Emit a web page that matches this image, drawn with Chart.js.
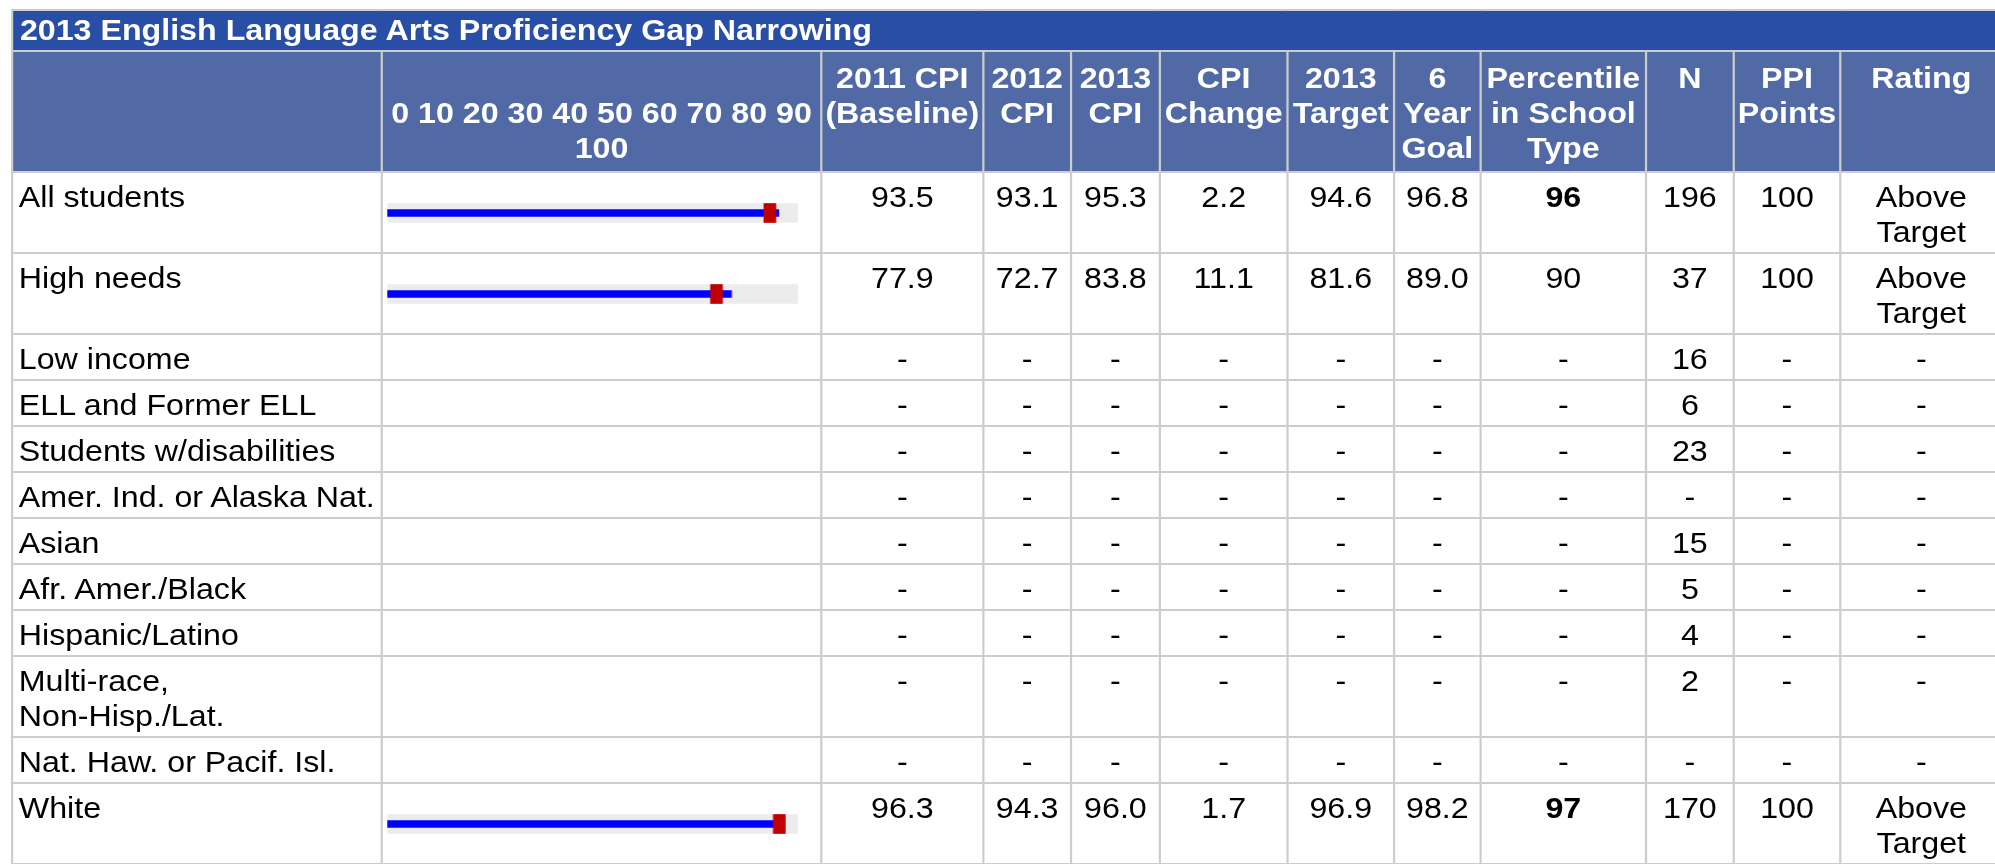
<!DOCTYPE html>
<html>
<head>
<meta charset="utf-8">
<title>2013 English Language Arts Proficiency Gap Narrowing</title>
<script src="https://cdn.jsdelivr.net/npm/chart.js@4.4.0/dist/chart.umd.min.js"></script>
<style>
html, body { margin: 0; padding: 0; background: #fff; }
body { width: 1995px; height: 864px; overflow: hidden; position: relative; }
#wrap { position: absolute; left: 11px; top: 9px; transform-origin: 0 0; transform: scaleX(1.11); }
table { border-collapse: collapse; table-layout: fixed; font-family: "Liberation Sans", Arial, sans-serif;
  font-size: 29px; line-height: 35px; color: #000; border-left: 2px solid #3b5cb6; }
th, td { border: 2px solid #cdcdcd; }
tr.title th { background: #284ea6; color: #fff; text-align: left; padding: 2px 6px; }
tr.head th { background: #5169a5; color: #fff; vertical-align: top; text-align: center; padding: 9px 2px 5px; }
tr.head th.axis { vertical-align: bottom; }
tbody td { vertical-align: top; text-align: center; padding: 7px 2px 2px; }
tbody td.lab { text-align: left; padding-left: 5px; }
tbody td.bul { padding: 0; vertical-align: middle; }
.bul div { width: 370px; height: 30px; margin-left: 4px; position: relative; }
</style>
</head>
<body>
<div id="wrap">
<table id="tbl">
  <colgroup>
    <col style="width:333px"><col style="width:396px"><col style="width:146px"><col style="width:79px">
    <col style="width:80px"><col style="width:115px"><col style="width:96px"><col style="width:78px">
    <col style="width:149px"><col style="width:79px"><col style="width:96px"><col style="width:146px">
  </colgroup>
  <thead>
    <tr class="title"><th colspan="12">2013 English Language Arts Proficiency Gap Narrowing</th></tr>
    <tr class="head" id="headRow"></tr>
  </thead>
  <tbody id="body"></tbody>
</table>
</div>
<script>
// student groups (rows)
var groups = ['All students', 'High needs', 'Low income', 'ELL and Former ELL', 'Students w/disabilities',
  'Amer. Ind. or Alaska Nat.', 'Asian', 'Afr. Amer./Black', 'Hispanic/Latino', 'Multi-race,\nNon-Hisp./Lat.',
  'Nat. Haw. or Pacif. Isl.', 'White'];

var cpi2011 = [93.5, 77.9, null, null, null, null, null, null, null, null, null, 96.3];
var cpi2012 = [93.1, 72.7, null, null, null, null, null, null, null, null, null, 94.3];
var cpi2013 = [95.3, 83.8, null, null, null, null, null, null, null, null, null, 96.0];
var cpiChange = [2.2, 11.1, null, null, null, null, null, null, null, null, null, 1.7];
var target2013 = [94.6, 81.6, null, null, null, null, null, null, null, null, null, 96.9];
var goal6yr = [96.8, 89.0, null, null, null, null, null, null, null, null, null, 98.2];
var percentile = [96, 90, null, null, null, null, null, null, null, null, null, 97];
var nStudents = [196, 37, 16, 6, 23, null, 15, 5, 4, 2, null, 170];
var ppiPoints = [100, 100, null, null, null, null, null, null, null, null, null, 100];
var rating = ['Above Target', 'Above Target', null, null, null, null, null, null, null, null, null, 'Above Target'];

// bullet axis ticks shown in the header
var axisTicks = [0, 10, 20, 30, 40, 50, 60, 70, 80, 90, 100];

var headers = ['2011 CPI<br>(Baseline)', '2012<br>CPI', '2013<br>CPI', 'CPI<br>Change', '2013<br>Target',
  '6<br>Year<br>Goal', 'Percentile<br>in School<br>Type', 'N', 'PPI<br>Points', 'Rating'];

var headRow = document.getElementById('headRow');
var h = '<th></th><th class="axis">' + axisTicks.slice(0, -1).join(' ') + '<br>' + axisTicks[axisTicks.length - 1] + '</th>';
headers.forEach(function (t) { h += '<th>' + t + '</th>'; });
headRow.innerHTML = h;

function fmt1(v) { return v == null ? '-' : v.toFixed(1); }
function fmt0(v) { return v == null ? '-' : String(v); }

var body = document.getElementById('body');
var bulletRows = [];
groups.forEach(function (g, i) {
  var tr = document.createElement('tr');
  var pct = percentile[i] == null ? '-' : (percentile[i] > 90 ? '<b>' + percentile[i] + '</b>' : percentile[i]);
  var hasBullet = cpi2013[i] != null;
  tr.innerHTML =
    '<td class="lab">' + g.replace('\n', '<br>') + '</td>' +
    '<td class="bul">' + (hasBullet ? '<div><canvas id="bullet' + i + '"></canvas></div>' : '') + '</td>' +
    '<td>' + fmt1(cpi2011[i]) + '</td>' +
    '<td>' + fmt1(cpi2012[i]) + '</td>' +
    '<td>' + fmt1(cpi2013[i]) + '</td>' +
    '<td>' + fmt1(cpiChange[i]) + '</td>' +
    '<td>' + fmt1(target2013[i]) + '</td>' +
    '<td>' + fmt1(goal6yr[i]) + '</td>' +
    '<td>' + pct + '</td>' +
    '<td>' + fmt0(nStudents[i]) + '</td>' +
    '<td>' + fmt0(ppiPoints[i]) + '</td>' +
    '<td>' + (rating[i] || '-') + '</td>';
  body.appendChild(tr);
  if (hasBullet) bulletRows.push(i);
});

var axisMin = axisTicks[0];
var axisMax = axisTicks[axisTicks.length - 1];
var markerWidth = 2.9; // width of the target marker, in axis units (drawn ending at the target)

// one small bullet chart per row: grey range, blue 2013 CPI bar, red target marker
bulletRows.forEach(function (i) {
  var ctx = document.getElementById('bullet' + i).getContext('2d');
  new Chart(ctx, {
    type: 'bar',
    data: {
      labels: [groups[i]],
      datasets: [
        {
          label: '2013 Target',
          data: [[target2013[i] - markerWidth, target2013[i]]],
          backgroundColor: '#c00000',
          barThickness: 19,
          grouped: false,
          order: 0
        },
        {
          label: '2013 CPI',
          data: [cpi2013[i]],
          backgroundColor: '#0000ff',
          barThickness: 7,
          grouped: false,
          order: 1
        },
        {
          label: 'Range',
          data: [axisMax],
          backgroundColor: '#ececec',
          barThickness: 19,
          grouped: false,
          order: 2
        }
      ]
    },
    options: {
      indexAxis: 'y',
      responsive: true,
      maintainAspectRatio: false,
      animation: false,
      events: [],
      layout: { padding: 0 },
      plugins: { legend: { display: false }, tooltip: { enabled: false } },
      scales: {
        x: { display: false, min: axisMin, max: axisMax },
        y: { display: false, offset: true }
      }
    }
  });
});
</script>
</body>
</html>
